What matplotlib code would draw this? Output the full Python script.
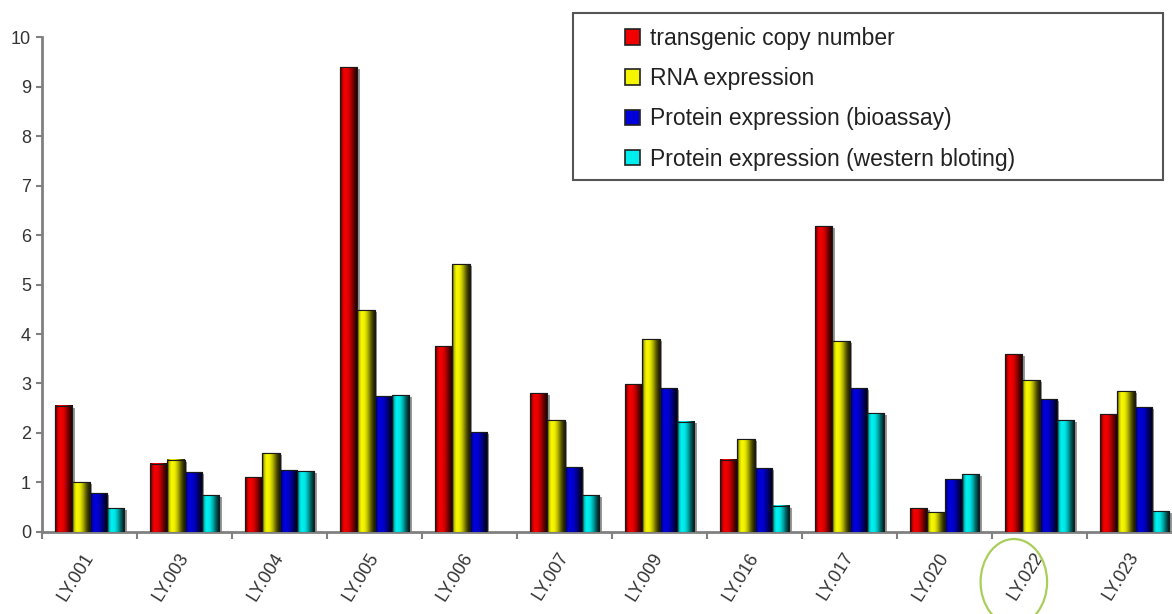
import numpy as np
import matplotlib.pyplot as plt
from matplotlib.patches import Patch, Rectangle, Ellipse
from matplotlib import transforms
from matplotlib.colors import to_rgb

lines = ['LY.001', 'LY.003', 'LY.004', 'LY.005', 'LY.006', 'LY.007',
         'LY.009', 'LY.016', 'LY.017', 'LY.020', 'LY.022', 'LY.023']
copy_number = [2.55, 1.38, 1.11, 9.40, 3.75, 2.80, 2.99, 1.46, 6.18, 0.47, 3.60, 2.38]
rna_expr = [1.01, 1.46, 1.59, 4.49, 5.41, 2.26, 3.89, 1.88, 3.85, 0.39, 3.07, 2.85]
protein_bioassay = [0.78, 1.20, 1.25, 2.74, 2.01, 1.31, 2.91, 1.28, 2.90, 1.07, 2.69, 2.52]
protein_western = [0.48, 0.74, 1.23, 2.76, np.nan, 0.74, 2.23, 0.53, 2.40, 1.17, 2.26, 0.42]

series = [copy_number, rna_expr, protein_bioassay, protein_western]
series_names = ['transgenic copy number', 'RNA expression',
                'Protein expression (bioassay)', 'Protein expression (western bloting)']
series_colors = ['#f00000', '#f5f500', '#0000d8', '#00eeee']
highlight = 'LY.022'

plt.rcParams['font.family'] = ['Liberation Sans', 'DejaVu Sans']
GRAY = '#808080'
TEXT = '#333333'


def shaded(color):
    # cylinder-like shading: bright left of centre, dark towards the right edge
    base = np.array(to_rgb(color))
    profile = np.array([0.4, 0.85, 1.0, 1.0, 0.95, 0.82, 0.65, 0.45, 0.28, 0.15])
    return np.clip(profile[None, :, None] * base[None, None, :], 0, 1)


fig = plt.figure(figsize=(11.72, 6.14), dpi=100)
ax = fig.add_axes([42 / 1172, 0.134, 1140 / 1172, 0.805])

idx = np.arange(len(lines))
width = 0.18
for k, (vals, col) in enumerate(zip(series, series_colors)):
    xs = idx + (k - 1.5) * width
    # drop shadow
    ax.bar(xs + 0.03, np.array(vals) - 0.04, width, align='center',
           color='#9a9a9a', zorder=1, linewidth=0)
    bars = ax.bar(xs, vals, width, color=col, edgecolor='#1a1a1a',
                  linewidth=0.8, zorder=2)
    img = shaded(col)
    for p in bars.patches:
        h = p.get_height()
        if not np.isfinite(h) or h <= 0:
            continue
        x0 = p.get_x()
        ax.imshow(img, extent=(x0, x0 + p.get_width(), 0, h), aspect='auto',
                  interpolation='bilinear', zorder=3)
        ax.add_patch(Rectangle((x0, 0), p.get_width(), h, fill=False,
                               edgecolor='#1a1a1a', linewidth=0.8, zorder=4))

ax.set_xlim(-0.5, len(lines) - 0.5)
ax.set_ylim(0, 10)
ax.set_yticks(range(0, 11))
ax.set_xticks(idx, lines, rotation=58, ha='right', rotation_mode='anchor',
              va='center')
ax.set_xticks(np.arange(-0.5, len(lines), 1), minor=True)

for side in ['top', 'right']:
    ax.spines[side].set_visible(False)
for side in ['left', 'bottom']:
    ax.spines[side].set_color(GRAY)
    ax.spines[side].set_linewidth(2)

ax.tick_params(axis='y', length=4, width=1.5, color=GRAY, labelsize=13,
               labelcolor=TEXT, pad=4)
ax.tick_params(axis='x', which='major', length=0, pad=16, labelsize=13,
               labelcolor=TEXT)
ax.tick_params(axis='x', which='minor', length=5, width=1.5, color=GRAY)

# legend, with its own wide frame
handles = [Patch(facecolor=c, edgecolor='#222222', linewidth=1.2) for c in series_colors]
fig.legend(handles, series_names, loc='upper left',
           bbox_to_anchor=(625 / 1172, 1 - 27 / 614), frameon=False,
           fontsize=16.5, handlelength=0.65, handleheight=0.65, handletextpad=0.45,
           labelspacing=0.75, borderpad=0, borderaxespad=0, labelcolor='#222222')
fig.add_artist(Rectangle((573 / 1172, 1 - 180 / 614), 590 / 1172, 167 / 614,
                         transform=fig.transFigure, facecolor='white',
                         edgecolor='#555555', linewidth=1.5, zorder=1))

# ring around the highlighted line name
trans = transforms.blended_transform_factory(ax.transData, fig.transFigure)
fig.add_artist(Ellipse((lines.index(highlight) - 0.27, 1 - 582 / 614), 0.7, 0.14,
                       transform=trans, fill=False, edgecolor='#a9cf5a',
                       linewidth=1.6))

fig.savefig('out.png', dpi=100)
